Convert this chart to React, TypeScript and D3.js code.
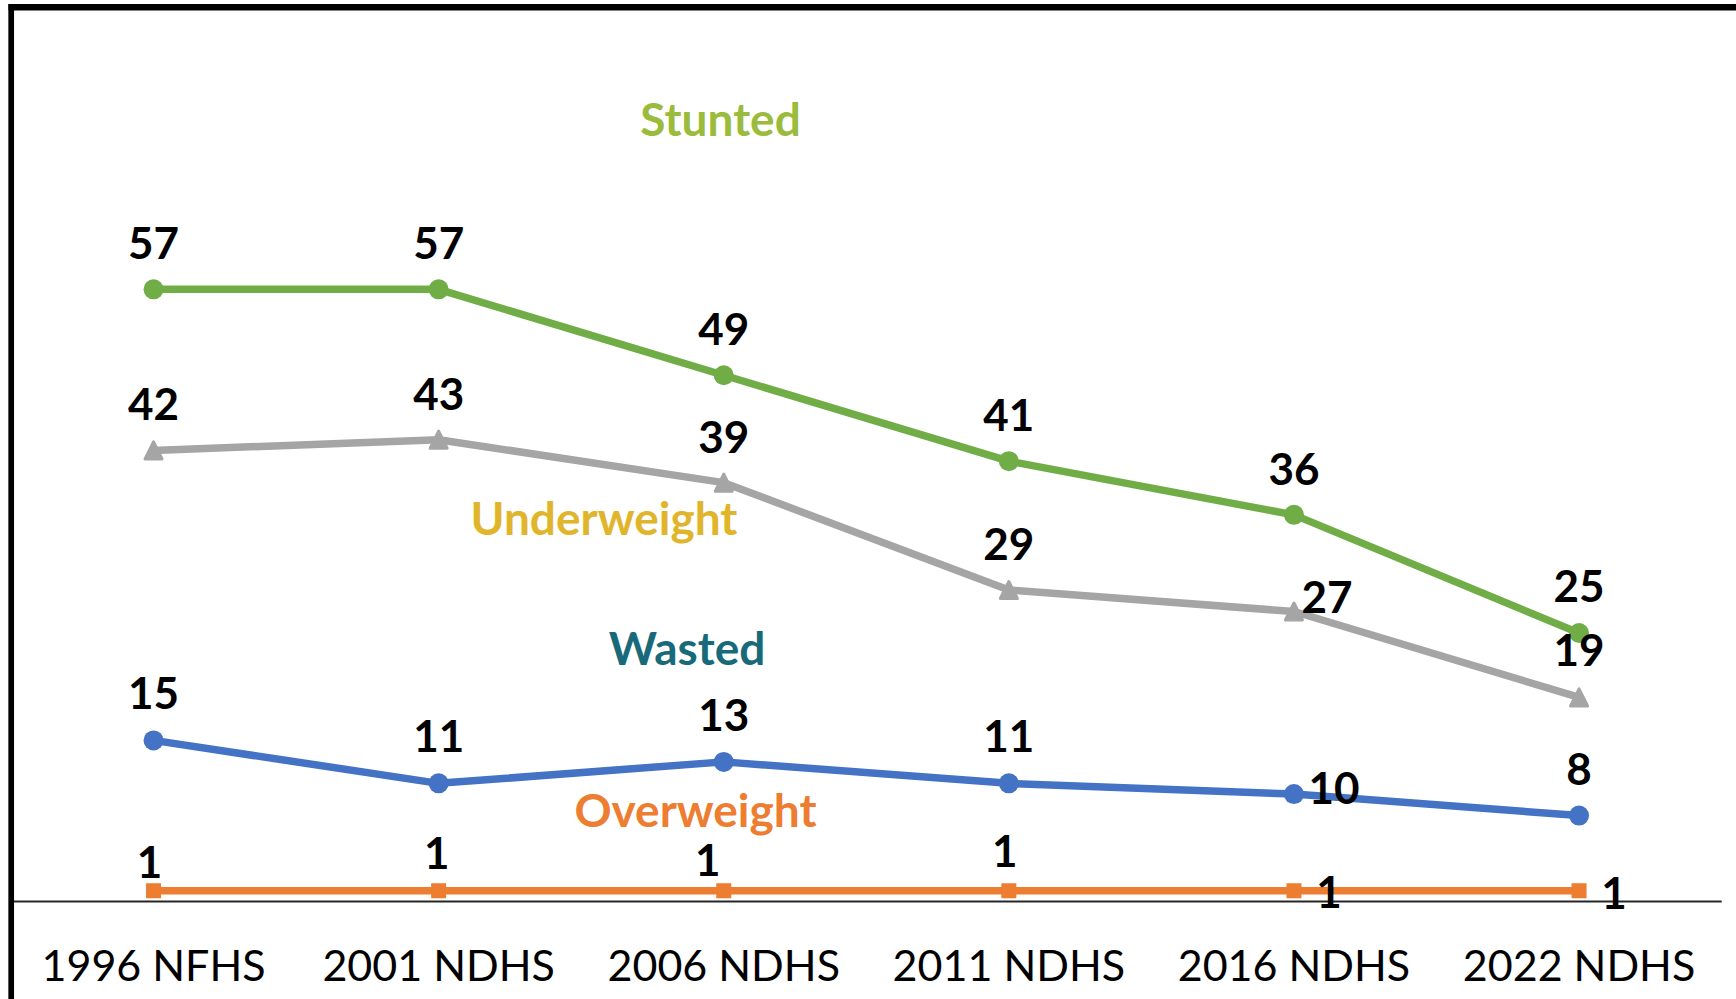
import React from "react";
import * as d3 from "d3";

const categories = ["1996 NFHS", "2001 NDHS", "2006 NDHS", "2011 NDHS", "2016 NDHS", "2022 NDHS"];
const stunted = [57, 57, 49, 41, 36, 25];
const underweight = [42, 43, 39, 29, 27, 19];
const wasted = [15, 11, 13, 11, 10, 8];
const overweight = [1, 1, 1, 1, 1, 1];

// label offsets (dx, dy of label baseline-centre relative to the point)
const stuntedOffsets = [[0, -30], [0, -30], [0, -30], [0, -30], [0, -30], [0, -31]];
const underweightOffsets = [[0, -30], [0, -30], [0, -30], [0, -30], [33, 1], [0, -31]];
const wastedOffsets = [[0, -31], [0, -31], [0, -31], [0, -31], [40, 10], [0, -31]];
const overweightOffsets = [[-4, -13], [-2, -22], [-16, -15], [-4, -24], [35, 17], [35, 18]];

const W = 1736;
const H = 999;

export default function App() {
  const x = d3.scaleBand<string>().domain(categories).range([11, 1721.6]);
  const y = d3.scaleLinear().domain([0, 60]).range([901.5, 901.5 - 60 * 10.74]);
  const cx = (i: number) => (x(categories[i]) as number) + x.bandwidth() / 2;

  const line = d3
    .line<number>()
    .x((_, i) => cx(i))
    .y((d) => y(d));

  const series = [
    { name: "Stunted", values: stunted, color: "#70AD47", marker: "circle", offsets: stuntedOffsets },
    { name: "Underweight", values: underweight, color: "#A5A5A5", marker: "triangle", offsets: underweightOffsets },
    { name: "Wasted", values: wasted, color: "#4472C4", marker: "circle", offsets: wastedOffsets },
    { name: "Overweight", values: overweight, color: "#ED7D31", marker: "square", offsets: overweightOffsets },
  ];

  const seriesLabels = [
    { text: "Stunted", color: "#9ABB3B", x: 720.5, y: 136 },
    { text: "Underweight", color: "#E1B52B", x: 604, y: 535 },
    { text: "Wasted", color: "#186A7B", x: 687, y: 665 },
    { text: "Overweight", color: "#ED7D31", x: 695.5, y: 827 },
  ];

  const marker = (kind: string, px: number, py: number, color: string, key: string) => {
    if (kind === "circle") return <circle key={key} cx={px} cy={py} r={10} fill={color} />;
    if (kind === "square")
      return <rect key={key} x={px - 7.5} y={py - 7.5} width={15} height={15} fill={color} />;
    const p = d3.path();
    p.moveTo(px, py - 8.5);
    p.lineTo(px + 8.5, py + 8.5);
    p.lineTo(px - 8.5, py + 8.5);
    p.closePath();
    return (
      <path key={key} d={p.toString()} fill={color} stroke={color} strokeWidth={3} strokeLinejoin="round" />
    );
  };

  return (
    <svg
      width={W}
      height={H}
      style={{ position: "absolute", left: 0, top: 0, background: "#fff" }}
      fontFamily="Lato, 'Noto Sans', sans-serif"
    >
      <rect x={0} y={0} width={W} height={H} fill="#fff" />
      {/* frame */}
      <line x1={8.5} x2={W} y1={7.3} y2={7.3} stroke="#000" strokeWidth={6.5} />
      <line x1={11.2} x2={11.2} y1={4} y2={H} stroke="#000" strokeWidth={5.7} />
      {/* axis */}
      <line x1={14} x2={1721.7} y1={y(0)} y2={y(0)} stroke="#262626" strokeWidth={2} />

      {categories.map((c, i) => (
        <text key={c} x={cx(i)} y={981} textAnchor="middle" fontSize={43} fill="#000">
          {c}
        </text>
      ))}

      {series.map((s) => (
        <g key={s.name}>
          <path
            d={line(s.values) as string}
            fill="none"
            stroke={s.color}
            strokeWidth={7.5}
            strokeLinejoin="round"
            strokeLinecap="round"
          />
          {s.values.map((v, i) => marker(s.marker, cx(i), y(v), s.color, s.name + i))}
        </g>
      ))}

      {series.map((s) =>
        s.values.map((v, i) => (
          <text
            key={"l" + s.name + i}
            x={cx(i) + s.offsets[i][0]}
            y={y(v) + s.offsets[i][1]}
            textAnchor="middle"
            fontWeight="bold"
            fontSize={44}
            fill="#000"
          >
            {v}
          </text>
        ))
      )}

      {seriesLabels.map((l) => (
        <text key={l.text} x={l.x} y={l.y} textAnchor="middle" fontWeight="bold" fontSize={46} fill={l.color}>
          {l.text}
        </text>
      ))}
    </svg>
  );
}
